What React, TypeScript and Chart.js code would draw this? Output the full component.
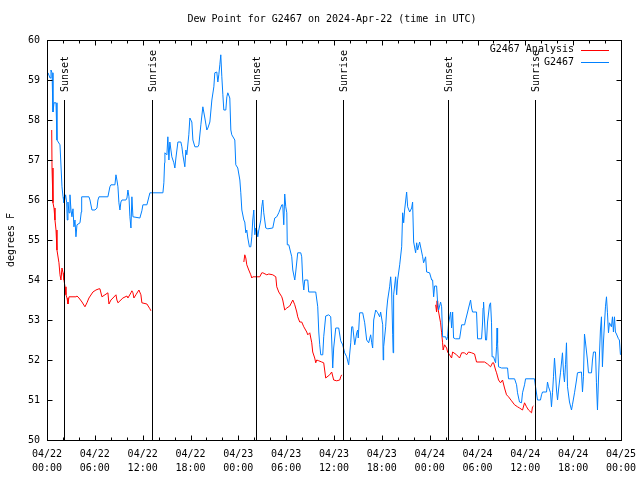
import React, { useEffect, useRef } from 'react';
import { Chart, registerables } from 'chart.js';

Chart.register(...registerables);

const TITLE = 'Dew Point for G2467 on 2024-Apr-22 (time in UTC)';
const Y_LABEL = 'degrees F';
const DAY_LABELS = ['04/22', '04/23', '04/24', '04/25'];
const HOUR_LABELS = ['00:00', '06:00', '12:00', '18:00'];
const Y_MIN = 50;
const Y_MAX = 60;
const X_MIN = 0; // hours since 2024-04-22 00:00 UTC
const X_MAX = 72;
const SUN_LINE_TOP = 58.5;
const SUN_LABEL_BASE = 58.7;

const sunEvents = [
  { label: 'Sunset', t: 2.15 },
  { label: 'Sunrise', t: 13.17 },
  { label: 'Sunset', t: 26.18 },
  { label: 'Sunrise', t: 37.15 },
  { label: 'Sunset', t: 50.28 },
  { label: 'Sunrise', t: 61.2 },
];

// G2467 observed dew point: [hours, degF]
const observed: [number, number][] = [
  [0.13, 59.18], [0.38, 59.05], [0.5, 59.25], [0.63, 59.18], [0.75, 58.2], [0.88, 58.43], [1.13, 58.43], [1.25, 57.5],
  [1.63, 57.38], [1.88, 56.33], [2.01, 56.08], [2.13, 55.93], [2.34, 56.13], [2.47, 55.93], [2.54, 55.5], [2.63, 55.95],
  [2.76, 55.68], [2.88, 56.13], [3.01, 55.75], [3.13, 55.58], [3.26, 55.78], [3.38, 55.33], [3.51, 55.5], [3.63, 55.08],
  [3.76, 55.38], [4.14, 55.43], [4.3, 55.7], [4.35, 56.08], [5.26, 56.08], [5.39, 56.0], [5.64, 55.75], [6.02, 55.75],
  [6.27, 55.8], [6.39, 56.0], [6.52, 56.08], [7.64, 56.08], [7.89, 56.33], [8.02, 56.38], [8.52, 56.38], [8.65, 56.63],
  [8.77, 56.5], [8.9, 56.33], [9.02, 55.93], [9.15, 55.75], [9.27, 55.95], [9.4, 56.0], [9.9, 56.0], [10.03, 56.05],
  [10.15, 56.25], [10.28, 56.08], [10.4, 55.58], [10.53, 55.3], [10.65, 56.08], [10.78, 55.58], [11.65, 55.55], [11.9, 55.73],
  [12.03, 55.88], [12.53, 55.88], [12.91, 56.18], [13.16, 56.18], [14.54, 56.18], [14.66, 56.43], [14.75, 56.93], [14.79, 57.18],
  [15.04, 57.13], [15.16, 57.58], [15.29, 57.0], [15.41, 57.45], [15.66, 57.08], [15.91, 56.93], [16.04, 56.8], [16.17, 57.05],
  [16.42, 57.45], [16.79, 57.45], [16.92, 57.33], [17.04, 57.13], [17.29, 56.83], [17.42, 57.25], [17.54, 57.13], [17.79, 57.63],
  [17.92, 58.05], [18.17, 57.95], [18.3, 57.5], [18.55, 57.33], [18.92, 57.33], [19.05, 57.38], [19.3, 57.88], [19.55, 58.33],
  [19.8, 58.05], [20.05, 57.75], [20.18, 57.8], [20.43, 57.95], [20.68, 58.5], [20.93, 58.83], [21.05, 59.18], [21.3, 59.2],
  [21.43, 58.95], [21.55, 59.13], [21.68, 59.38], [21.8, 59.63], [21.93, 59.08], [22.06, 58.63], [22.18, 58.25], [22.43, 58.25],
  [22.56, 58.58], [22.68, 58.68], [22.93, 58.55], [23.06, 57.75], [23.18, 57.63], [23.56, 57.5], [23.68, 56.88], [23.93, 56.8],
  [24.19, 56.5], [24.31, 56.18], [24.44, 55.75], [24.69, 55.5], [24.81, 55.45], [24.94, 55.18], [25.06, 55.25], [25.19, 55.05],
  [25.39, 54.83], [25.56, 54.83], [25.69, 55.08], [25.81, 55.5], [25.94, 55.75], [26.07, 55.13], [26.19, 55.3], [26.32, 55.25],
  [26.44, 55.08], [26.57, 55.25], [26.82, 55.5], [26.94, 55.83], [27.07, 56.0], [27.19, 55.68], [27.44, 55.3], [27.69, 55.28],
  [28.32, 55.3], [28.57, 55.55], [28.82, 55.58], [29.07, 55.68], [29.45, 55.88], [29.57, 55.88], [29.7, 55.38], [29.82, 56.15],
  [29.95, 55.83], [30.08, 55.68], [30.14, 54.88], [30.33, 54.88], [30.7, 54.58], [30.83, 54.25], [31.08, 54.0], [31.2, 54.2],
  [31.45, 54.68], [31.83, 54.68], [31.95, 54.58], [32.08, 54.0], [32.21, 53.75], [32.33, 54.0], [32.71, 54.0], [32.83, 53.7],
  [33.71, 53.7], [33.96, 53.33], [34.09, 52.7], [34.21, 52.38], [34.34, 52.13], [34.59, 52.13], [34.71, 52.58], [34.96, 53.1],
  [35.34, 53.13], [35.59, 53.08], [35.71, 52.5], [35.84, 51.8], [35.96, 52.3], [36.22, 52.8], [36.59, 52.8], [36.84, 52.48],
  [37.09, 52.38], [37.34, 52.18], [37.59, 52.08], [37.84, 51.88], [38.1, 52.43], [38.22, 52.83], [38.35, 52.83], [38.6, 52.38],
  [38.85, 52.68], [38.97, 52.75], [39.04, 52.55], [39.22, 53.18], [39.6, 53.18], [39.85, 52.93], [40.1, 52.5], [40.35, 52.43],
  [40.6, 52.63], [40.73, 52.43], [40.85, 52.3], [40.98, 53.0], [41.23, 53.25], [41.48, 53.18], [41.73, 53.08], [41.85, 53.2],
  [42.11, 52.88], [42.17, 52.0], [42.23, 52.33], [42.48, 52.83], [42.61, 53.25], [42.73, 53.5], [42.98, 53.83], [43.11, 54.08],
  [43.23, 53.75], [43.36, 52.63], [43.42, 52.18], [43.48, 53.63], [43.73, 54.08], [43.86, 53.63], [43.98, 54.0], [44.24, 54.38],
  [44.49, 54.83], [44.61, 55.68], [44.74, 55.43], [44.86, 55.75], [45.11, 56.2], [45.24, 55.83], [45.49, 55.7], [45.74, 55.8],
  [45.86, 55.95], [45.99, 54.95], [46.24, 54.68], [46.37, 54.93], [46.49, 54.75], [46.74, 54.95], [47.12, 54.58], [47.24, 54.43],
  [47.49, 54.58], [47.62, 54.2], [47.99, 54.18], [48.25, 54.0], [48.37, 54.0], [48.5, 53.58], [48.62, 53.85], [48.87, 53.85],
  [49.0, 53.43], [49.12, 53.25], [49.37, 53.45], [49.5, 53.33], [49.62, 52.58], [50.0, 52.58], [50.13, 52.5], [50.25, 52.58],
  [50.38, 52.93], [50.63, 53.2], [50.75, 52.8], [50.88, 53.2], [51.0, 52.55], [51.25, 52.53], [51.75, 52.53], [51.88, 52.7],
  [52.01, 52.88], [52.38, 52.88], [52.51, 53.0], [52.76, 53.2], [52.88, 53.3], [53.13, 53.5], [53.26, 53.3], [53.38, 53.2],
  [53.88, 53.2], [54.01, 52.53], [54.51, 52.53], [54.64, 52.95], [54.7, 53.3], [54.76, 53.45], [55.01, 52.5], [55.14, 52.5],
  [55.26, 52.95], [55.51, 53.38], [55.64, 53.43], [55.76, 52.93], [55.83, 52.08], [56.02, 52.08], [56.14, 52.0], [56.27, 51.93],
  [56.39, 52.33], [56.45, 52.8], [56.52, 52.43], [56.64, 51.83], [57.02, 51.8], [57.77, 51.8], [57.89, 51.53], [58.65, 51.53],
  [58.9, 51.38], [59.02, 51.18], [59.27, 50.95], [59.52, 50.93], [59.65, 51.18], [59.9, 51.38], [60.03, 51.53], [61.15, 51.53],
  [61.28, 51.33], [61.53, 51.0], [61.9, 51.0], [62.03, 51.13], [62.16, 51.2], [62.66, 51.2], [62.78, 51.45], [62.91, 51.33],
  [63.16, 51.18], [63.28, 50.83], [63.41, 51.18], [63.53, 51.58], [63.66, 52.05], [63.78, 51.7], [63.91, 51.25], [64.04, 51.0],
  [64.16, 51.25], [64.41, 51.68], [64.66, 52.18], [64.79, 51.68], [64.91, 51.45], [65.04, 51.88], [65.16, 52.43], [65.29, 51.33],
  [65.54, 50.95], [65.79, 50.75], [65.91, 50.88], [66.17, 51.18], [66.42, 51.5], [66.54, 51.68], [67.04, 51.7], [67.17, 51.2],
  [67.29, 51.58], [67.42, 52.65], [67.54, 52.45], [67.79, 52.0], [67.92, 51.68], [68.3, 51.68], [68.42, 52.0], [68.55, 52.2],
  [68.8, 52.2], [68.92, 51.43], [69.05, 50.75], [69.17, 51.5], [69.42, 52.75], [69.55, 53.08], [69.67, 51.83], [69.8, 52.45],
  [70.05, 53.33], [70.18, 53.58], [70.3, 53.18], [70.43, 52.68], [70.55, 52.93], [70.8, 52.83], [70.93, 53.08], [71.05, 52.7],
  [71.18, 53.08], [71.3, 52.7], [71.43, 52.65], [71.68, 52.53], [71.8, 52.5], [71.93, 52.13],
];

// G2467 Analysis: three separate runs
const analysisRun1: [number, number][] = [
  [0.59, 57.75], [0.63, 56.8], [0.75, 55.93], [0.88, 55.8], [1.0, 55.5], [1.13, 55.25], [1.25, 54.75], [1.5, 54.43],
  [1.63, 54.13], [1.75, 54.0], [1.88, 54.3], [2.01, 54.18], [2.13, 54.0], [2.26, 53.83], [2.38, 53.63], [2.51, 53.55],
  [2.63, 53.4], [2.76, 53.58], [3.63, 53.58], [3.76, 53.6], [4.01, 53.55], [4.39, 53.45], [4.76, 53.33], [5.01, 53.43],
  [5.26, 53.55], [5.76, 53.7], [6.14, 53.75], [6.52, 53.78], [6.64, 53.78], [6.89, 53.58], [7.27, 53.63], [7.64, 53.68],
  [7.77, 53.4], [8.02, 53.5], [8.27, 53.55], [8.65, 53.63], [8.77, 53.5], [8.9, 53.43], [9.52, 53.55], [10.03, 53.6],
  [10.15, 53.55], [10.53, 53.68], [10.65, 53.73], [10.78, 53.68], [10.9, 53.55], [11.15, 53.63], [11.53, 53.75], [11.78, 53.63],
  [11.9, 53.43], [12.53, 53.4], [12.91, 53.28], [13.03, 53.23],
];
const analysisRun2: [number, number][] = [
  [24.69, 54.45], [24.81, 54.63], [24.94, 54.55], [25.06, 54.38], [25.31, 54.25], [25.56, 54.13], [25.69, 54.05], [25.81, 54.08],
  [26.69, 54.08], [26.94, 54.18], [27.07, 54.18], [27.57, 54.13], [27.82, 54.15], [28.32, 54.13], [28.7, 54.08], [28.82, 53.83],
  [29.07, 53.7], [29.45, 53.58], [29.57, 53.5], [29.82, 53.25], [30.08, 53.3], [30.45, 53.35], [30.83, 53.5], [31.08, 53.38],
  [31.33, 53.2], [31.45, 53.08], [31.7, 52.95], [31.95, 52.95], [32.21, 52.83], [32.58, 52.7], [32.71, 52.63], [32.96, 52.68],
  [33.21, 52.43], [33.33, 52.2], [33.58, 52.05], [33.71, 51.93], [33.83, 52.0], [34.09, 51.98], [34.46, 51.95], [34.71, 51.93],
  [34.96, 51.55], [35.46, 51.63], [35.71, 51.7], [35.96, 51.5], [36.34, 51.48], [36.72, 51.5], [36.84, 51.58], [36.97, 51.63],
];
const analysisRun3: [number, number][] = [
  [48.75, 53.38], [48.87, 53.2], [48.93, 53.48], [49.0, 53.33], [49.12, 53.2], [49.37, 52.93], [49.5, 52.68], [49.62, 52.43],
  [49.69, 52.25], [49.87, 52.38], [50.13, 52.3], [50.25, 52.2], [50.5, 52.13], [50.75, 52.05], [50.88, 52.2], [51.38, 52.13],
  [51.75, 52.05], [52.01, 52.18], [52.38, 52.18], [52.63, 52.13], [52.88, 52.2], [53.26, 52.18], [53.63, 52.15], [53.88, 51.95],
  [54.89, 51.95], [55.26, 51.9], [55.64, 51.83], [55.89, 51.93], [56.02, 51.93], [56.27, 51.75], [56.39, 51.68], [56.64, 51.5],
  [56.89, 51.43], [57.14, 51.5], [57.39, 51.3], [57.64, 51.13], [57.89, 51.08], [58.27, 50.98], [58.65, 50.88], [59.02, 50.83],
  [59.27, 50.8], [59.65, 50.75], [59.9, 50.93], [60.15, 50.83], [60.4, 50.75], [60.78, 50.68], [60.9, 50.83], [61.03, 50.85],
];

const FONT_FAMILY = '"DejaVu Sans Mono", "Liberation Mono", monospace';
const FONT = `10px ${FONT_FAMILY}`;
const RED = '#ff0000';
const BLUE = '#0080ff';

const toPoints = (arr: [number, number][]) => arr.map(([x, y]) => ({ x, y }));

const decorPlugin = {
  id: 'decor',
  afterDatasetsDraw(chart: any) {
    const { ctx, chartArea: a, scales } = chart;
    const xs = scales.x;
    const ys = scales.y;
    const crisp = (v: number) => Math.round(v) + 0.5;
    ctx.save();
    ctx.strokeStyle = '#000';
    ctx.fillStyle = '#000';
    ctx.lineWidth = 1;
    ctx.font = FONT;

    // sunrise / sunset markers
    sunEvents.forEach((e) => {
      const px = crisp(xs.getPixelForValue(e.t));
      ctx.beginPath();
      ctx.moveTo(px, Math.round(ys.getPixelForValue(SUN_LINE_TOP)));
      ctx.lineTo(px, a.bottom);
      ctx.stroke();
      ctx.save();
      ctx.translate(px + 1, ys.getPixelForValue(SUN_LABEL_BASE));
      ctx.rotate(-Math.PI / 2);
      ctx.textAlign = 'left';
      ctx.textBaseline = 'middle';
      ctx.fillText(e.label, 0, 0);
      ctx.restore();
    });

    // frame
    const L = crisp(a.left), R = crisp(a.right), T = crisp(a.top), B = crisp(a.bottom);
    ctx.strokeRect(L, T, R - L, B - T);

    // x ticks (major 6h, minor 2h) inward top and bottom
    ctx.beginPath();
    for (let v = X_MIN; v <= X_MAX; v += 2) {
      const len = v % 6 === 0 ? 5 : 3;
      const px = crisp(xs.getPixelForValue(v));
      ctx.moveTo(px, B);
      ctx.lineTo(px, B - len);
      ctx.moveTo(px, T);
      ctx.lineTo(px, T + len);
    }
    // y ticks inward left and right
    for (let v = Y_MIN; v <= Y_MAX; v += 1) {
      const py = crisp(ys.getPixelForValue(v));
      ctx.moveTo(L, py);
      ctx.lineTo(L + 5, py);
      ctx.moveTo(R, py);
      ctx.lineTo(R - 5, py);
    }
    ctx.stroke();

    // title
    ctx.textAlign = 'center';
    ctx.textBaseline = 'middle';
    ctx.fillText(TITLE, (a.left + a.right) / 2 - 2, 19);

    // legend
    const rows = chart.data.datasets.map((d: any) => ({ label: d.label, color: d.borderColor }));
    rows.forEach((r: any, i: number) => {
      const y = a.top + 9.5 + i * 12.5;
      ctx.textAlign = 'right';
      ctx.fillStyle = '#000';
      ctx.fillText(r.label, a.right - 47, y);
      ctx.strokeStyle = r.color;
      ctx.beginPath();
      ctx.moveTo(a.right - 40, Math.round(y) + 0.5);
      ctx.lineTo(a.right - 12, Math.round(y) + 0.5);
      ctx.stroke();
    });
    ctx.restore();
  },
};

export default function App() {
  const ref = useRef<HTMLCanvasElement | null>(null);
  useEffect(() => {
    document.body.style.margin = '0';
    if (!ref.current) return;
    const analysis = [
      ...toPoints(analysisRun1),
      { x: (analysisRun1[analysisRun1.length - 1][0] + analysisRun2[0][0]) / 2, y: null },
      ...toPoints(analysisRun2),
      { x: (analysisRun2[analysisRun2.length - 1][0] + analysisRun3[0][0]) / 2, y: null },
      ...toPoints(analysisRun3),
    ];
    const chart = new Chart(ref.current, {
      type: 'line',
      data: {
        datasets: [
          {
            label: 'G2467 Analysis',
            data: analysis as any,
            borderColor: RED,
            borderWidth: 1,
            pointRadius: 0,
            tension: 0,
            spanGaps: false,
            order: 2,
          },
          {
            label: 'G2467',
            data: toPoints(observed),
            borderColor: BLUE,
            borderWidth: 1,
            pointRadius: 0,
            tension: 0,
            order: 1,
          },
        ],
      },
      options: {
        responsive: false,
        animation: false,
        devicePixelRatio: 1,
        layout: { padding: { top: 40, right: 19, left: 0, bottom: 0 } },
        plugins: { legend: { display: false }, title: { display: false }, tooltip: { enabled: false } },
        scales: {
          x: {
            type: 'linear',
            min: X_MIN,
            max: X_MAX,
            grid: { display: false, drawTicks: false },
            border: { display: false },
            afterFit: (s: any) => {
              s.height = 40;
              s.paddingLeft = 0;
              s.paddingRight = 0;
            },
            ticks: {
              stepSize: 6,
              autoSkip: false,
              maxRotation: 0,
              minRotation: 0,
              padding: 7,
              color: '#000',
              font: { family: FONT_FAMILY, size: 10, lineHeight: 1.4 },
              callback: (value: any) => {
                const i = Math.round(Number(value) / 6);
                return [DAY_LABELS[Math.floor(i / 4)], HOUR_LABELS[i % 4]];
              },
            },
          },
          y: {
            min: Y_MIN,
            max: Y_MAX,
            grid: { display: false, drawTicks: false },
            border: { display: false },
            afterFit: (s: any) => {
              s.width = 47;
              s.paddingTop = 0;
              s.paddingBottom = 0;
            },
            title: {
              display: true,
              text: Y_LABEL,
              color: '#000',
              font: { family: FONT_FAMILY, size: 10 },
              padding: { top: 5, bottom: 0 },
            },
            ticks: {
              stepSize: 1,
              padding: 7,
              color: '#000',
              font: { family: FONT_FAMILY, size: 10 },
            },
          },
        },
      },
      plugins: [decorPlugin],
    });
    return () => chart.destroy();
  }, []);
  return (
    <div style={{ position: 'absolute', left: 0, top: 0, width: 640, height: 480, background: '#fff' }}>
      <canvas ref={ref} width={640} height={480} />
    </div>
  );
}
